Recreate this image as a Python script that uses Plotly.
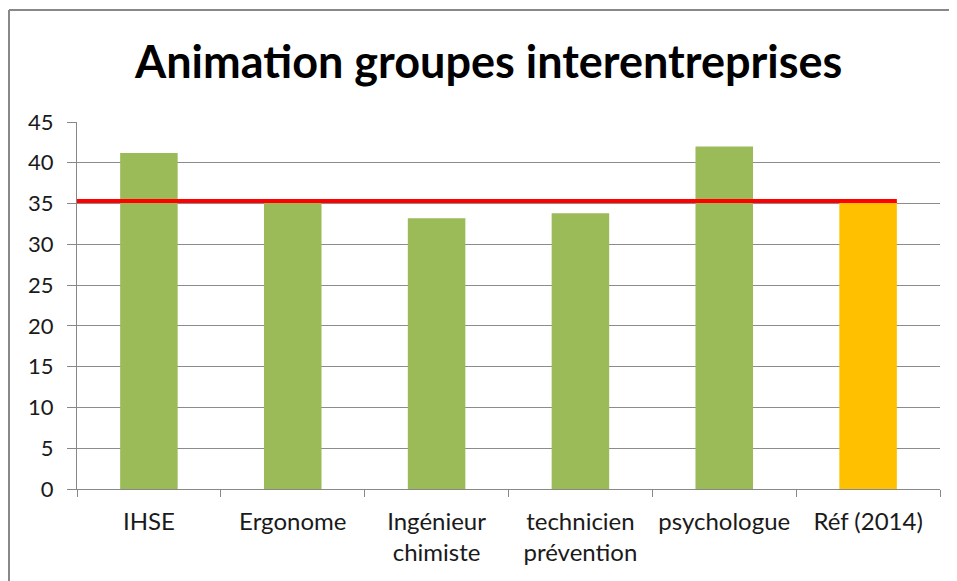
import plotly.graph_objects as go

categories = ["IHSE", "Ergonome", "Ingénieur<br>chimiste", "technicien<br>prévention", "psychologue", "Réf (2014)"]
values = [41.2, 35.2, 33.2, 33.8, 42.0, 35.3]
bar_colors = ["#9BBB59", "#9BBB59", "#9BBB59", "#9BBB59", "#9BBB59", "#FFC000"]
ref_value = 35.3
y_ticks = [0, 5, 10, 15, 20, 25, 30, 35, 40, 45]

fig = go.Figure()
fig.add_trace(go.Bar(x=categories, y=values, marker=dict(color=bar_colors, line=dict(width=0)),
                     width=0.4, showlegend=False, hoverinfo="x+y"))

fig.add_shape(type="line", xref="x", yref="y", x0=-0.5, x1=5.2, y0=ref_value, y1=ref_value,
              line=dict(color="#FF0000", width=4), layer="above")

# outer chart border (left and top edges visible in the frame)
fig.add_shape(type="line", xref="paper", yref="paper", x0=-0.0788, x1=-0.0788, y0=-0.4, y1=1.305,
              line=dict(color="#888888", width=2), layer="below")
fig.add_shape(type="line", xref="paper", yref="paper", x0=-0.0788, x1=1.1, y0=1.305, y1=1.305,
              line=dict(color="#888888", width=2), layer="below")

fig.update_layout(
    width=949, height=573,
    margin=dict(l=69, r=17, t=114, b=92, autoexpand=False),
    paper_bgcolor="white", plot_bgcolor="white",
    title=dict(text="<b>Animation groupes interentreprises</b>", x=0.477, xanchor="center",
               xref="paper", y=1 - 54 / 573, yanchor="middle",
               font=dict(family="Lato", size=45, color="black")),
    font=dict(family="Lato", color="black"),
)
fig.update_xaxes(type="category", tickson="boundaries", ticks="outside", ticklen=7, tickcolor="#888888",
                 showline=True, linecolor="#888888", linewidth=1, showgrid=False, automargin=False,
                 tickangle=0, ticklabelstandoff=11,
                 tickfont=dict(size=24, family="Lato", color="#1a1a1a"), range=[-0.5, 5.5])
fig.update_yaxes(range=[0, 45], tickvals=y_ticks, ticks="outside", ticklen=9, tickcolor="#888888",
                 showline=True, linecolor="#888888", linewidth=1, automargin=False,
                 ticklabelstandoff=9,
                 showgrid=True, gridcolor="#8C8C8C", gridwidth=1, zeroline=False,
                 tickfont=dict(size=22, family="Lato", color="#1a1a1a"))

fig.write_html("out.html")
